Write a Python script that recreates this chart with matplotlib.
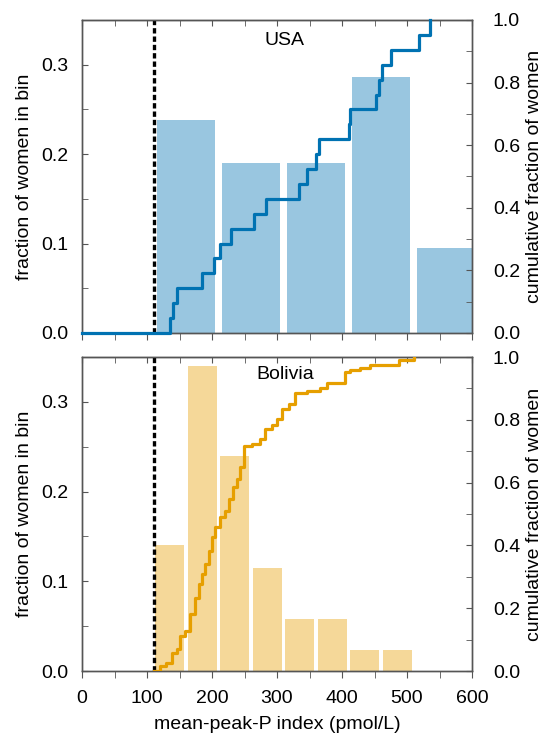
import numpy as np
import matplotlib
matplotlib.use('Agg')
import matplotlib.pyplot as plt
from matplotlib.ticker import MultipleLocator

plt.rcParams['font.family'] = ['Liberation Sans', 'DejaVu Sans']
plt.rcParams['font.size'] = 14

BLUE = '#0072B2'
ORANGE = '#E69F00'
THRESHOLD = 110

# USA: histogram (100-wide bins) and sorted individual index values
usa_bin_centers = [160, 260, 360, 460, 560]
usa_fraction = [0.238, 0.190, 0.190, 0.286, 0.095]
usa_index = [134.8, 140, 146, 184.6, 202.5, 211.8, 229.7, 264, 283.5, 334.3,
             346, 360.5, 364, 410, 412.8, 452.8, 456.4, 461.5, 475.4, 518, 536]

# Bolivia: histogram (50-wide bins) and cumulative curve
bol_bin_centers = [135, 185, 235, 285, 335, 385, 435, 485]
bol_fraction = [0.140, 0.340, 0.240, 0.115, 0.0575, 0.0575, 0.024, 0.024]
bol_cum_x = [111.2, 120.5, 129.7, 138.4, 146, 151.3, 159, 166.7, 174.4, 179.5,
             184.6, 189.7, 194.9, 200, 205, 212.8, 220.5, 225.6, 232.3, 238.5,
             243.6, 248.7, 261.5, 274.4, 282, 292.3, 300, 307.7, 318, 328.2,
             346.2, 366.7, 377, 405, 412.8, 428.2, 443.6, 487.2, 510]
bol_cum_y = [0.0, 0.016, 0.027, 0.058, 0.069, 0.112, 0.128, 0.181, 0.234, 0.277,
             0.309, 0.341, 0.383, 0.426, 0.458, 0.490, 0.511, 0.549, 0.586, 0.612,
             0.650, 0.716, 0.724, 0.740, 0.772, 0.783, 0.804, 0.836, 0.852, 0.886,
             0.892, 0.900, 0.918, 0.951, 0.958, 0.966, 0.974, 0.990, 0.998]


def style_axes(ax, ax2):
    for a in (ax, ax2):
        for s in a.spines.values():
            s.set_color('#555555')
            s.set_linewidth(1.0)
    ax.set_xlim(0, 600)
    ax.set_ylim(0, 0.35)
    ax2.set_ylim(0, 1.0)
    ax.yaxis.set_major_locator(MultipleLocator(0.1))
    ax.yaxis.set_minor_locator(MultipleLocator(0.05))
    ax.xaxis.set_major_locator(MultipleLocator(100))
    ax.xaxis.set_minor_locator(MultipleLocator(50))
    ax2.yaxis.set_major_locator(MultipleLocator(0.2))
    ax2.yaxis.set_minor_locator(MultipleLocator(0.1))
    ax.yaxis.set_major_formatter('{x:.1f}')
    ax2.yaxis.set_major_formatter('{x:.1f}')
    ax.tick_params(axis='y', which='both', direction='in', length=4,
                   color='#555555', left=True, right=False, pad=10)
    ax2.tick_params(axis='y', which='both', direction='in', length=4,
                    color='#555555', pad=15)
    ax.tick_params(axis='x', which='both', direction='out', length=5,
                   color='#555555', top=False, pad=9)
    sec = ax.secondary_xaxis('top')
    sec.xaxis.set_major_locator(MultipleLocator(100))
    sec.xaxis.set_minor_locator(MultipleLocator(50))
    sec.tick_params(which='both', direction='in', length=4, color='#555555',
                    labeltop=False)
    sec.spines['top'].set_color('#555555')
    ax.set_ylabel('fraction of women in bin', labelpad=6)
    ax2.set_ylabel('cumulative fraction of women', labelpad=4)
    ax.axvline(THRESHOLD, color='black', lw=2.4, ls=(0, (1.6, 0.9)), zorder=5)


fig = plt.figure(figsize=(5.59, 7.40), dpi=100)
ax_top = fig.add_axes([0.1467, 0.55, 0.6977, 0.423])
ax_bot = fig.add_axes([0.1467, 0.0932, 0.6977, 0.4243])

# USA panel
ax_top.bar(usa_bin_centers, usa_fraction, width=89, color=BLUE, alpha=0.4,
           linewidth=0)
ax_top2 = ax_top.twinx()
usa_x = [0] + usa_index
usa_y = [0] + list(np.arange(1, len(usa_index) + 1) / len(usa_index))
ax_top2.plot(usa_x, usa_y, drawstyle='steps-post', color=BLUE, lw=2.3,
             clip_on=False, zorder=3)
style_axes(ax_top, ax_top2)
ax_top.tick_params(axis='x', labelbottom=False)
ax_top.text(312, 0.936, 'USA', transform=ax_top.get_xaxis_transform(),
            ha='center', va='center', fontsize=14)

# Bolivia panel
ax_bot.bar(bol_bin_centers, bol_fraction, width=44.5, color=ORANGE, alpha=0.4,
           linewidth=0)
ax_bot2 = ax_bot.twinx()
ax_bot2.plot(bol_cum_x, bol_cum_y, drawstyle='steps-post', color=ORANGE, lw=2.3,
             zorder=3)
style_axes(ax_bot, ax_bot2)
ax_bot.text(312, 0.943, 'Bolivia', transform=ax_bot.get_xaxis_transform(),
            ha='center', va='center', fontsize=14)
ax_bot.set_xlabel('mean-peak-P index (pmol/L)', labelpad=6)

fig.savefig('out.png', dpi=100)
